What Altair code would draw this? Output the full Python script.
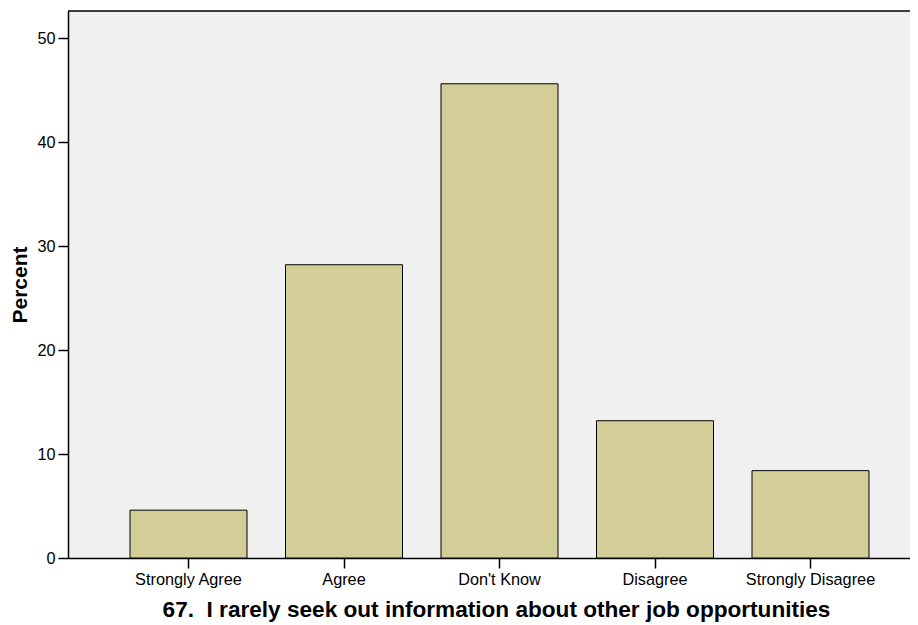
import altair as alt
import pandas as pd

categories = ["Strongly Agree", "Agree", "Don't Know", "Disagree", "Strongly Disagree"]
percents = [4.6, 28.2, 45.6, 13.2, 8.4]
y_ticks = [0, 10, 20, 30, 40, 50]

df = pd.DataFrame({"cat": categories, "pct": percents})

W, H = 842, 547
FONT = "Liberation Sans"

bars = alt.Chart(df).mark_bar(
    fill="#D3CE97", stroke="#000000", strokeWidth=1
).encode(
    x=alt.X(
        "cat:N",
        sort=categories,
        scale=alt.Scale(paddingInner=0.2476, paddingOuter=0.3312, align=0.602),
        axis=alt.Axis(
            title="67.\u00a0 I rarely seek out information about other job opportunities",
            labelAngle=0,
            labelFontSize=16.3,
            labelFont=FONT,
            labelColor="#000000",
            tickSize=10,
            tickColor="#000000",
            tickWidth=1.5,
            labelPadding=3,
            domainColor="#000000",
            domainWidth=1.5,
            titleFont=FONT,
            titleFontSize=22.6,
            titleFontWeight="bold",
            titleColor="#000000",
            titlePadding=11,
            titleX=428,
        ),
    ),
    y=alt.Y(
        "pct:Q",
        scale=alt.Scale(domain=[0, 52.6], nice=False, zero=True),
        axis=alt.Axis(
            title="Percent",
            values=y_ticks,
            grid=False,
            labelFontSize=16.3,
            labelFont=FONT,
            labelColor="#000000",
            tickSize=10,
            tickColor="#000000",
            tickWidth=1.5,
            labelPadding=3,
            domainColor="#000000",
            domainWidth=1.5,
            titleFont=FONT,
            titleFontSize=21,
            titleFontWeight="bold",
            titleColor="#000000",
            titlePadding=6,
        ),
    ),
)

top_rule = alt.Chart(pd.DataFrame({"a": [0]})).mark_rule(
    color="#000000", strokeWidth=1.5
).encode(x=alt.value(0), x2=alt.value(W), y=alt.value(0))

chart = alt.layer(bars, top_rule).properties(
    width=W,
    height=H,
    autosize="none",
    padding={"left": 60, "top": 3, "right": 0, "bottom": 66},
).configure_view(fill="#F0F0F0", stroke=None)

chart.save("out.html", embed_options={"renderer": "svg", "actions": False})
